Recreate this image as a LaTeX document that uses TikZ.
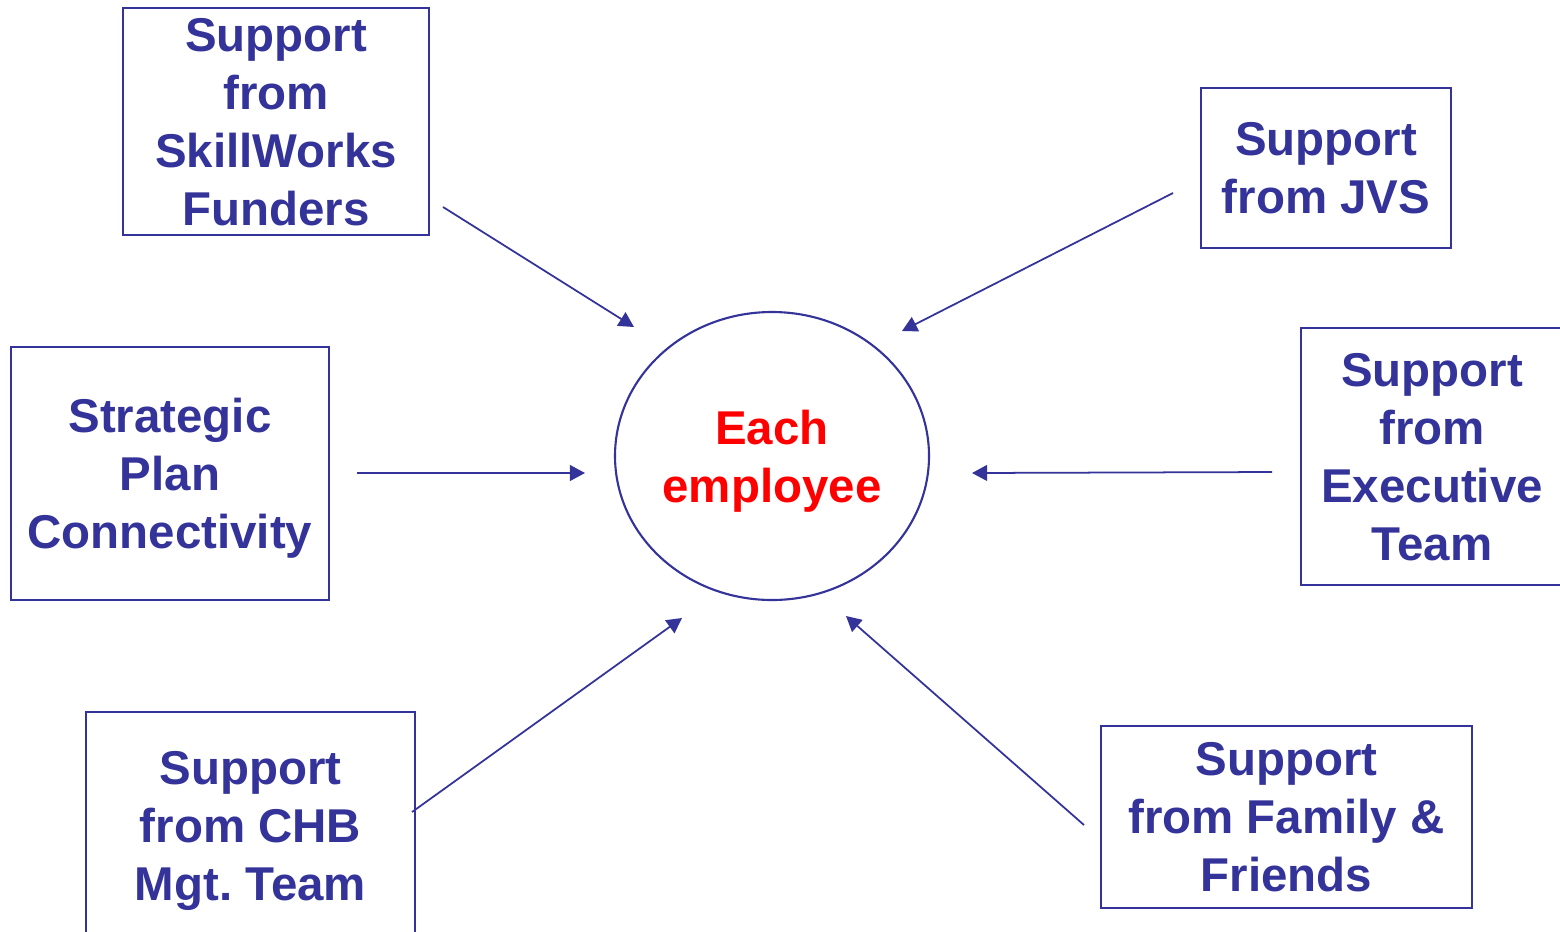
\documentclass[tikz,border=0pt]{standalone}
\usepackage{fontspec}
\setmainfont{Liberation Sans}
\usetikzlibrary{arrows.meta,shapes.geometric}
\definecolor{navy}{HTML}{333399}
\definecolor{brightred}{HTML}{FF0000}
\tikzset{
    box/.style={draw=navy,line width=0.6pt,text=navy,align=center,inner sep=0pt,text depth=0pt,
        font=\bfseries\fontsize{13.5}{16.5}\selectfont},
    arr/.style={draw=navy,line width=0.5pt,-{Triangle[length=4.3pt,width=4.5pt]}}
}
\begin{document}
\begin{tikzpicture}
    \clip (0,0) rectangle (15.6,9.31);
    \fill[white] (0,0) rectangle (15.6,9.31);
    % the employee in the middle
    \node[ellipse,draw=navy,line width=0.6pt,minimum width=3.14cm,minimum height=2.88cm,
        inner sep=0pt,text depth=0pt,text=brightred,align=center,
        font=\bfseries\fontsize{13.5}{16.5}\selectfont]
        (emp) at (7.72,4.75) {Each\\employee};
    % boxes round it
    \node[box,minimum width=3.06cm,minimum height=2.27cm] (funders) at (2.76,8.095)
        {Support\\from\\SkillWorks\\Funders};
    \node[box,minimum width=2.50cm,minimum height=1.60cm] (jvs) at (13.26,7.63)
        {Support\\from JVS};
    \node[box,minimum width=3.18cm,minimum height=2.53cm] (plan) at (1.70,4.575)
        {Strategic\\Plan\\Connectivity};
    \node[box,minimum width=2.62cm,minimum height=2.57cm] (exec) at (14.32,4.745)
        {Support\\from\\Executive\\Team};
    \node[box,minimum width=3.29cm,minimum height=2.28cm] (chb) at (2.505,1.05)
        {Support\\from CHB\\Mgt.\ Team};
    \node[box,minimum width=3.71cm,minimum height=1.82cm] (family) at (12.865,1.14)
        {Support\\from Family \&\\Friends};
    % free arrow ends
    \coordinate (funders-out) at (4.43,7.24);
    \coordinate (funders-in) at (6.34,6.04);
    \coordinate (jvs-out) at (11.73,7.38);
    \coordinate (jvs-in) at (9.02,6.00);
    \coordinate (plan-out) at (3.57,4.58);
    \coordinate (plan-in) at (5.85,4.58);
    \coordinate (exec-out) at (12.72,4.59);
    \coordinate (exec-in) at (9.72,4.58);
    \coordinate (chb-out) at (4.12,1.19);
    \coordinate (chb-in) at (6.82,3.13);
    \coordinate (family-out) at (10.84,1.06);
    \coordinate (family-in) at (8.46,3.15);
    \foreach \s in {funders,jvs,plan,exec,chb,family}
        \draw[arr] (\s-out) -- (\s-in);
\end{tikzpicture}
\end{document}
